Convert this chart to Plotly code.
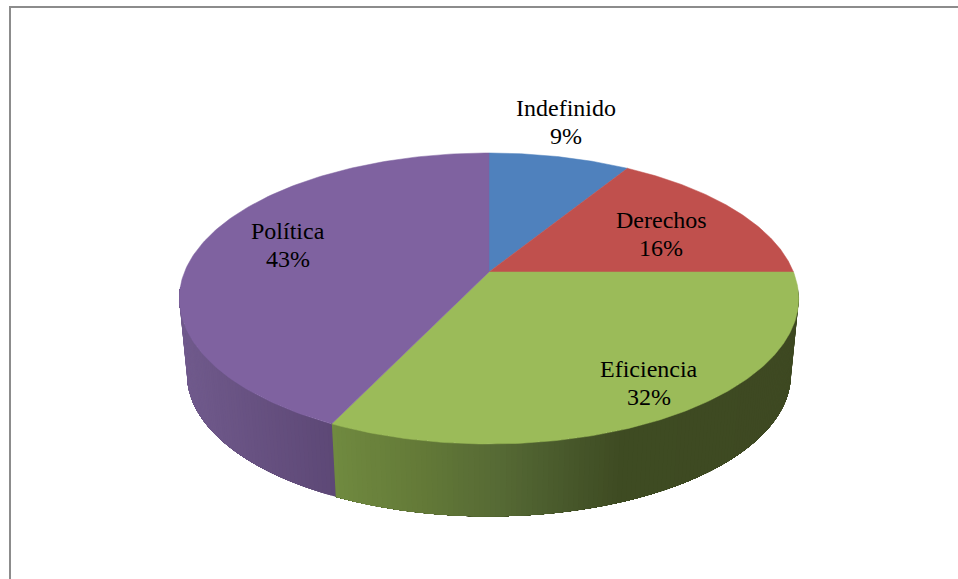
import numpy as np
import plotly.graph_objects as go

labels = ["Indefinido", "Derechos", "Eficiencia", "Política"]
values = [8.8, 16.2, 32.1, 42.9]
top_colors = ["#4f81bd", "#c0504d", "#9bbb59", "#7f62a0"]
# side-wall shading: (x pixel, rgb) stops for the visible walls
side_stops = {
    "Eficiencia": [(335, (112, 138, 64)), (420, (100, 122, 56)), (500, (86, 106, 53)),
                   (570, (72, 88, 43)), (620, (63, 76, 35)), (800, (62, 73, 34))],
    "Política": [(185, (112, 90, 140)), (250, (104, 82, 130)), (335, (93, 72, 118))],
}
label_pos = {"Indefinido": (566, 108), "Derechos": (661, 220), "Eficiencia": (649, 369), "Política": (288, 231)}

W, H = 958, 579
CX, CY = 489, 272      # apex of the pie on the page
A, B, C = 140.7, 0.182, 304.5  # perspective projection of the disc
EY = 298               # vertical middle of the top ellipse
SCALE, DEPTH = 0.975, 76


def top_point(theta):
    u, v = np.sin(theta), np.cos(theta)
    d = 1 + B * v
    return CX + C * u / d, CY - A * v / d


def low_point(theta):
    x, y = top_point(theta)
    return CX + (x - CX) * SCALE, EY + (y - EY) * SCALE + DEPTH


def rgb_at(stops, x):
    xs = [s[0] for s in stops]
    return "rgb(%d,%d,%d)" % tuple(np.interp(x, xs, [s[1][i] for s in stops]) for i in range(3))


total = sum(values)
edges = np.radians(np.cumsum([0] + values) / total * 360)
fig = go.Figure()

# side walls: overlapping strips painted in order, so no seams show between them
vis0, vis1 = np.radians(96), np.radians(264)
for i, name in enumerate(labels):
    if name not in side_stops:
        continue
    a0, a1 = max(edges[i], vis0), min(edges[i + 1], vis1)
    if a0 >= a1:
        continue
    grid = np.linspace(a0, a1, int(np.degrees(a1 - a0) * 1.2) + 2)
    for j in range(len(grid) - 1):
        arc = np.linspace(grid[j], a1, 40) if j < len(grid) - 2 else grid[j:]
        xt, yt = top_point(arc)
        xl, yl = low_point(arc[::-1])
        xm = (top_point(grid[j])[0] + top_point(grid[j + 1])[0]) / 2
        col = rgb_at(side_stops[name], xm)
        fig.add_trace(go.Scatter(x=np.r_[xt, xl, xt[0]], y=np.r_[yt, yl, yt[0]], mode="none",
                                 fill="toself", fillcolor=col, hoverinfo="skip", showlegend=False))

# top faces
for i, name in enumerate(labels):
    grid = np.linspace(edges[i], edges[i + 1], 160)
    xs, ys = top_point(grid)
    fig.add_trace(go.Scatter(x=np.r_[CX, xs, CX], y=np.r_[CY, ys, CY], mode="lines", fill="toself",
                             fillcolor=top_colors[i], line=dict(color=top_colors[i], width=0.5),
                             name=name, hoverinfo="skip", showlegend=False))

font = dict(family="Liberation Serif", size=24, color="#000000")
for name, v in zip(labels, values):
    x, y = label_pos[name]
    fig.add_annotation(x=x, y=y, text=name, showarrow=False, font=font, xanchor="center", yanchor="middle")
    fig.add_annotation(x=x, y=y + 28, text=f"{round(v)}%", showarrow=False, font=font, xanchor="center", yanchor="middle")

frame = dict(color="#8c8c8c", width=2)
fig.add_shape(type="line", x0=10, x1=10, y0=6, y1=H, xref="x", yref="y", line=frame)
fig.add_shape(type="line", x0=9, x1=W, y0=7, y1=7, xref="x", yref="y", line=frame)

fig.update_layout(width=W, height=H, margin=dict(l=0, r=0, t=0, b=0), paper_bgcolor="white",
                  plot_bgcolor="white", showlegend=False,
                  xaxis=dict(range=[0, W], visible=False, fixedrange=True),
                  yaxis=dict(range=[H, 0], visible=False, fixedrange=True))
fig.write_html("out.html", config=dict(displayModeBar=False),
               post_script="document.body.style.margin='0';document.body.style.overflow='hidden';")
